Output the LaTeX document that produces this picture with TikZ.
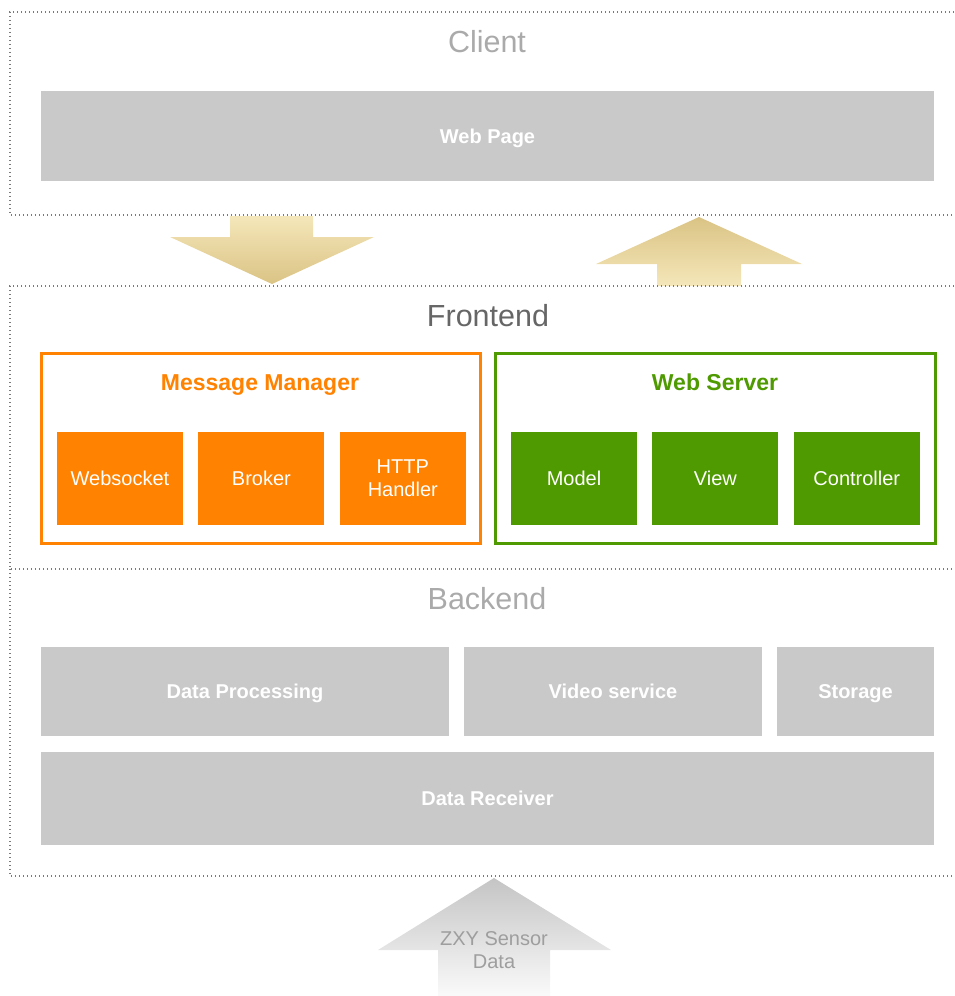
\documentclass[tikz,border=0pt]{standalone}
\usepackage{fontspec}
\setmainfont{Liberation Sans}
\usepackage{xcolor}
\usepackage{tikz}
\usetikzlibrary{positioning}

\definecolor{mmorange}{HTML}{FF8200}
\definecolor{wsgreen}{HTML}{4E9A00}
\definecolor{boxgray}{HTML}{C9C9C9}
\definecolor{titlegray}{HTML}{AAAAAA}
\definecolor{framegray}{HTML}{7A7A7A}
\definecolor{goldlight}{HTML}{F5E7BA}
\definecolor{golddark}{HTML}{DAC384}

\begin{document}
\begin{tikzpicture}[
    x=1pt, y=-1pt,
    frame/.style={draw=framegray, line width=1.3pt, dash pattern=on 1.3pt off 2.7pt},
    layertitle/.style={font=\fontsize{30.5}{35}\selectfont, text=titlegray, text height=28pt, text depth=6pt},
    graybox/.style={rectangle, fill=boxgray, text=white, font=\fontsize{20}{24}\selectfont\bfseries, text height=18.5pt, text depth=4pt},
    groupbox/.style={rectangle, line width=3pt, fill=white, minimum height=190pt},
    grouptitle/.style={font=\fontsize{23}{27}\selectfont\bfseries, text height=22.5pt, text depth=5pt},
    innerbox/.style={rectangle, text=white, minimum width=126pt, minimum height=93pt, font=\fontsize{20}{23}\selectfont, align=center}
]
\useasboundingbox (0,0) rectangle (954,996);

% Client
\draw[frame] (954,12) -- (10,12) -- (10,215) -- (954,215);
\node[layertitle] (client) at (487,41) {Client};
\node[graybox, minimum width=893pt, minimum height=90pt] (webpage) at (487.5,136) {Web Page};

% transfer arrows
\shade[top color=goldlight, bottom color=golddark]
    (230,216) -- (313,216) -- (313,237) -- (374,237) -- (272,284) -- (170,237) -- (230,237) -- cycle;
\shade[top color=golddark, bottom color=goldlight]
    (699,217) -- (802,264) -- (741,264) -- (741,286) -- (657,286) -- (657,264) -- (596,264) -- cycle;

% Frontend
\draw[frame] (954,286) -- (10,286) -- (10,569) -- (954,569);
\node[layertitle, text=black!60] (frontend) at (488,315) {Frontend};

\node[groupbox, draw=mmorange, minimum width=439pt] (msgmgr) at (260.5,448) {};
\node[grouptitle, text=mmorange] (msgtitle) at (260,382) {Message Manager};
\node[innerbox, fill=mmorange] (websocket) at (120,478.5) {Websocket};
\node[innerbox, fill=mmorange, right=15pt of websocket] (broker) {Broker};
\node[innerbox, fill=mmorange, right=15pt of broker] (http) {HTTP\\Handler};

\node[groupbox, draw=wsgreen, minimum width=440pt] (webserver) at (715,448) {};
\node[grouptitle, text=wsgreen] (wstitle) at (715,382) {Web Server};
\node[innerbox, fill=wsgreen] (model) at (574,478.5) {Model};
\node[innerbox, fill=wsgreen, right=15pt of model] (view) {View};
\node[innerbox, fill=wsgreen, right=15pt of view] (controller) {Controller};

% Backend
\draw[frame] (10,569) -- (10,876) -- (954,876);
\node[layertitle] (backend) at (487,598) {Backend};
\node[graybox, minimum width=408pt, minimum height=89pt] (dataproc) at (245,691.5) {Data Processing};
\node[graybox, minimum width=298pt, minimum height=89pt] (video) at (613,691.5) {Video service};
\node[graybox, minimum width=157pt, minimum height=89pt] (storage) at (855.5,691.5) {Storage};
\node[graybox, minimum width=893pt, minimum height=93pt] (receiver) at (487.5,798.5) {Data Receiver};

% sensor input
\shade[top color=black!23, bottom color=black!2]
    (494,878) -- (611,950) -- (550,950) -- (550,996) -- (438,996) -- (438,950) -- (378,950) -- cycle;
\node[font=\fontsize{20}{23}\selectfont, text=black!38, align=center] (sensor) at (494,950) {ZXY Sensor\\Data};

\end{tikzpicture}
\end{document}
